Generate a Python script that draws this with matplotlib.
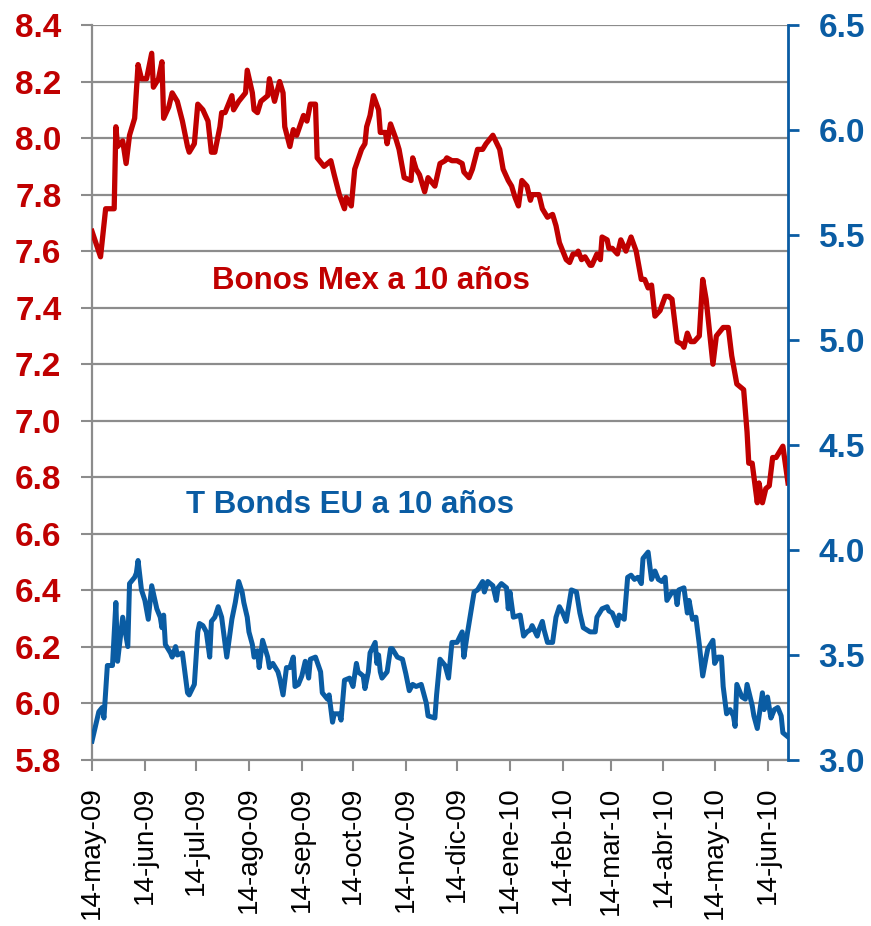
import numpy as np
import pandas as pd
import matplotlib
matplotlib.use("Agg")
from matplotlib import pyplot as plt

plt.rcParams['font.family'] = ['Liberation Sans', 'DejaVu Sans']

RED = "#C00000"
BLUE = "#0A5CA3"
GRID = "#8C8C8C"

start = pd.Timestamp("2009-05-14")

# Bonos Mex a 10 anios (eje izquierdo), dias desde 14-may-09
mex_days = [0, 5, 8, 11, 13, 14, 15, 18, 20, 22, 25, 27, 29, 32, 35, 36, 39, 41, 42, 45,
            47, 50, 53, 56, 57, 60, 62, 65, 68, 70, 72, 75, 76, 78, 82, 83, 86, 90, 91, 94,
            95, 97, 99, 103, 104, 107, 110, 112, 113, 116, 118, 120, 124, 126, 128, 131, 132, 136, 140, 142,
            145, 148, 149, 152, 154, 158, 160, 161, 163, 165, 168, 169, 172, 173, 175, 178, 180, 183, 187, 188,
            190, 192, 195, 197, 201, 204, 207, 208, 211, 214, 217, 218, 221, 223, 226, 229, 231, 235, 239, 241,
            244, 246, 248, 250, 252, 255, 257, 258, 262, 264, 267, 270, 272, 274, 276, 278, 280, 282, 284, 285,
            287, 289, 292, 293, 296, 298, 299, 302, 303, 305, 308, 310, 313, 316, 319, 322, 324, 326, 328, 330,
            333, 336, 338, 340, 343, 346, 347, 349, 351, 353, 356, 358, 360, 364, 366, 370, 373, 375, 378, 382,
            384, 385, 387, 390, 391, 393, 395, 397, 399, 401, 405, 408]
mex_vals = [7.67, 7.58, 7.75, 7.75, 7.75, 8.04, 7.97, 7.99, 7.91, 8.01, 8.07, 8.26, 8.21, 8.21, 8.30, 8.18, 8.21, 8.27, 8.07, 8.11,
            8.16, 8.13, 8.06, 7.97, 7.95, 7.98, 8.12, 8.10, 8.06, 7.95, 7.95, 8.04, 8.09, 8.09, 8.15, 8.10, 8.13, 8.16, 8.24, 8.16,
            8.10, 8.09, 8.13, 8.15, 8.21, 8.13, 8.20, 8.16, 8.04, 7.97, 8.03, 8.01, 8.08, 8.06, 8.12, 8.12, 7.93, 7.90, 7.92, 7.87,
            7.80, 7.75, 7.79, 7.76, 7.89, 7.96, 7.98, 8.04, 8.08, 8.15, 8.10, 8.02, 8.02, 7.98, 8.05, 8.00, 7.96, 7.86, 7.85, 7.93,
            7.89, 7.87, 7.81, 7.86, 7.83, 7.91, 7.92, 7.93, 7.92, 7.92, 7.91, 7.88, 7.86, 7.89, 7.96, 7.96, 7.98, 8.01, 7.96, 7.89,
            7.85, 7.83, 7.79, 7.76, 7.85, 7.83, 7.78, 7.80, 7.80, 7.75, 7.72, 7.73, 7.69, 7.63, 7.60, 7.57, 7.56, 7.59, 7.59, 7.60,
            7.57, 7.58, 7.55, 7.55, 7.59, 7.57, 7.65, 7.64, 7.61, 7.61, 7.59, 7.64, 7.60, 7.65, 7.60, 7.50, 7.50, 7.47, 7.48, 7.37,
            7.39, 7.44, 7.44, 7.43, 7.28, 7.27, 7.26, 7.31, 7.28, 7.28, 7.30, 7.50, 7.43, 7.20, 7.30, 7.33, 7.33, 7.23, 7.13, 7.11,
            6.96, 6.85, 6.85, 6.71, 6.78, 6.71, 6.76, 6.77, 6.87, 6.87, 6.91, 6.78]

# T Bonds EU a 10 anios (eje derecho)
tb_days = [0, 4, 6, 7, 9, 12, 14, 15, 18, 21, 22, 25, 26, 27, 29, 31, 33, 35, 38, 40,
           41, 42, 43, 46, 47, 49, 50, 53, 56, 57, 60, 62, 63, 65, 67, 69, 70, 72, 74, 76,
           79, 82, 84, 86, 88, 89, 91, 92, 94, 95, 97, 98, 100, 103, 104, 106, 109, 110, 112, 114,
           116, 118, 119, 121, 123, 125, 127, 128, 131, 134, 135, 138, 139, 141, 142, 145, 146, 148, 151, 153,
           155, 156, 159, 160, 162, 163, 166, 167, 168, 169, 170, 173, 175, 176, 179, 182, 184, 186, 188, 190,
           193, 196, 197, 201, 202, 204, 207, 209, 211, 214, 217, 218, 220, 223, 224, 226, 229, 230, 232, 235,
           237, 238, 240, 243, 244, 245, 247, 251, 253, 255, 257, 258, 261, 262, 264, 265, 267, 270, 272, 274,
           276, 278, 281, 284, 286, 288, 292, 295, 296, 299, 302, 303, 305, 308, 309, 312, 314, 316, 318, 320,
           322, 323, 326, 328, 330, 332, 334, 336, 337, 340, 342, 343, 344, 347, 349, 350, 352, 354, 356, 358,
           360, 361, 364, 365, 367, 369, 370, 372, 374, 376, 377, 378, 381, 383, 384, 387, 388, 390, 393, 394,
           396, 398, 400, 402, 404, 405, 408]
tb_vals = [3.09, 3.23, 3.25, 3.20, 3.45, 3.45, 3.75, 3.47, 3.68, 3.54, 3.84, 3.87, 3.89, 3.95, 3.81, 3.76, 3.67, 3.83, 3.72, 3.68,
           3.63, 3.69, 3.55, 3.51, 3.49, 3.54, 3.50, 3.51, 3.32, 3.31, 3.36, 3.61, 3.65, 3.64, 3.61, 3.49, 3.66, 3.68, 3.73, 3.68,
           3.49, 3.67, 3.75, 3.85, 3.80, 3.75, 3.68, 3.61, 3.55, 3.49, 3.52, 3.44, 3.57, 3.49, 3.44, 3.46, 3.42, 3.39, 3.31, 3.44,
           3.44, 3.49, 3.35, 3.36, 3.40, 3.47, 3.39, 3.48, 3.49, 3.42, 3.32, 3.29, 3.31, 3.18, 3.22, 3.22, 3.19, 3.38, 3.39, 3.35,
           3.46, 3.42, 3.40, 3.34, 3.42, 3.51, 3.56, 3.46, 3.50, 3.42, 3.39, 3.42, 3.53, 3.53, 3.49, 3.48, 3.41, 3.33, 3.36, 3.35,
           3.36, 3.27, 3.21, 3.20, 3.31, 3.48, 3.45, 3.39, 3.56, 3.56, 3.61, 3.49, 3.60, 3.75, 3.80, 3.81, 3.85, 3.80, 3.85, 3.83,
           3.76, 3.82, 3.84, 3.82, 3.72, 3.80, 3.68, 3.69, 3.59, 3.61, 3.62, 3.64, 3.59, 3.62, 3.66, 3.62, 3.56, 3.56, 3.68, 3.73,
           3.70, 3.66, 3.81, 3.80, 3.70, 3.63, 3.61, 3.61, 3.68, 3.72, 3.73, 3.71, 3.70, 3.64, 3.69, 3.67, 3.87, 3.88, 3.86, 3.87,
           3.84, 3.96, 3.99, 3.86, 3.90, 3.86, 3.85, 3.87, 3.76, 3.80, 3.80, 3.74, 3.81, 3.82, 3.70, 3.76, 3.67, 3.68, 3.55, 3.40,
           3.49, 3.53, 3.57, 3.46, 3.49, 3.49, 3.35, 3.22, 3.24, 3.21, 3.16, 3.36, 3.30, 3.29, 3.36, 3.26, 3.21, 3.15, 3.32, 3.24,
           3.30, 3.20, 3.24, 3.25, 3.21, 3.13, 3.11]

tick_dates = ["2009-05-14", "2009-06-14", "2009-07-14", "2009-08-14", "2009-09-14", "2009-10-14", "2009-11-14",
              "2009-12-14", "2010-01-14", "2010-02-14", "2010-03-14", "2010-04-14", "2010-05-14", "2010-06-14"]
tick_labels = ["14-may-09", "14-jun-09", "14-jul-09", "14-ago-09", "14-sep-09", "14-oct-09", "14-nov-09",
               "14-dic-09", "14-ene-10", "14-feb-10", "14-mar-10", "14-abr-10", "14-may-10", "14-jun-10"]

mex_x = start + pd.to_timedelta(mex_days, unit="D")
tb_x = start + pd.to_timedelta(tb_days, unit="D")

fig = plt.figure(figsize=(8.71, 9.26), dpi=100)
ax = fig.add_axes([92/871, 1-760/926, 696/871, 735/926])
ax2 = ax.twinx()

ax.plot(mex_x, mex_vals, color=RED, lw=3.8, solid_joinstyle="round", zorder=3)
ax2.plot(tb_x, tb_vals, color=BLUE, lw=3.6, solid_joinstyle="round", zorder=3)

ax.set_xlim(start, start + pd.Timedelta(days=408))
ax.set_ylim(5.8, 8.4)
ax2.set_ylim(3.0, 6.5)

ax.set_yticks(np.arange(5.8, 8.41, 0.2))
ax.set_yticklabels([f"{v:.1f}" for v in np.arange(5.8, 8.41, 0.2)])
ax2.set_yticks(np.arange(3.0, 6.51, 0.5))
ax2.set_yticklabels([f"{v:.1f}" for v in np.arange(3.0, 6.51, 0.5)])

ax.yaxis.grid(True, color=GRID, lw=1.6)
ax.set_axisbelow(True)

ax.set_xticks(pd.to_datetime(tick_dates))
ax.set_xticklabels(tick_labels, rotation=90, fontsize=20, va="top", ha="center")
ax.tick_params(axis="x", direction="out", length=8, width=1.5, color=GRID, pad=11)
ax.tick_params(axis="y", direction="out", length=8, width=1.5, color=GRID, pad=14,
               labelsize=24, labelcolor=RED)
for lab in ax.get_yticklabels():
    lab.set_fontweight("bold")
ax2.tick_params(axis="y", direction="out", length=8, width=2, color=BLUE, pad=14,
                labelsize=24, labelcolor=BLUE)
for lab in ax2.get_yticklabels():
    lab.set_fontweight("bold")

for a in (ax, ax2):
    a.spines["top"].set_visible(False)
ax.spines["left"].set_color(GRID)
ax.spines["left"].set_linewidth(1.6)
ax.spines["bottom"].set_color(GRID)
ax.spines["bottom"].set_linewidth(1.6)
ax.spines["right"].set_visible(False)
ax2.spines["left"].set_visible(False)
ax2.spines["bottom"].set_visible(False)
ax2.spines["right"].set_color(BLUE)
ax2.spines["right"].set_linewidth(2)

ax.text(0.401, 0.652, "Bonos Mex a 10 años", transform=ax.transAxes, ha="center", va="center",
        color=RED, fontsize=22.5, fontweight="bold")
ax.text(0.371, 0.347, "T Bonds EU a 10 años", transform=ax.transAxes, ha="center", va="center",
        color=BLUE, fontsize=22.5, fontweight="bold")

fig.savefig("out.png", dpi=100)
